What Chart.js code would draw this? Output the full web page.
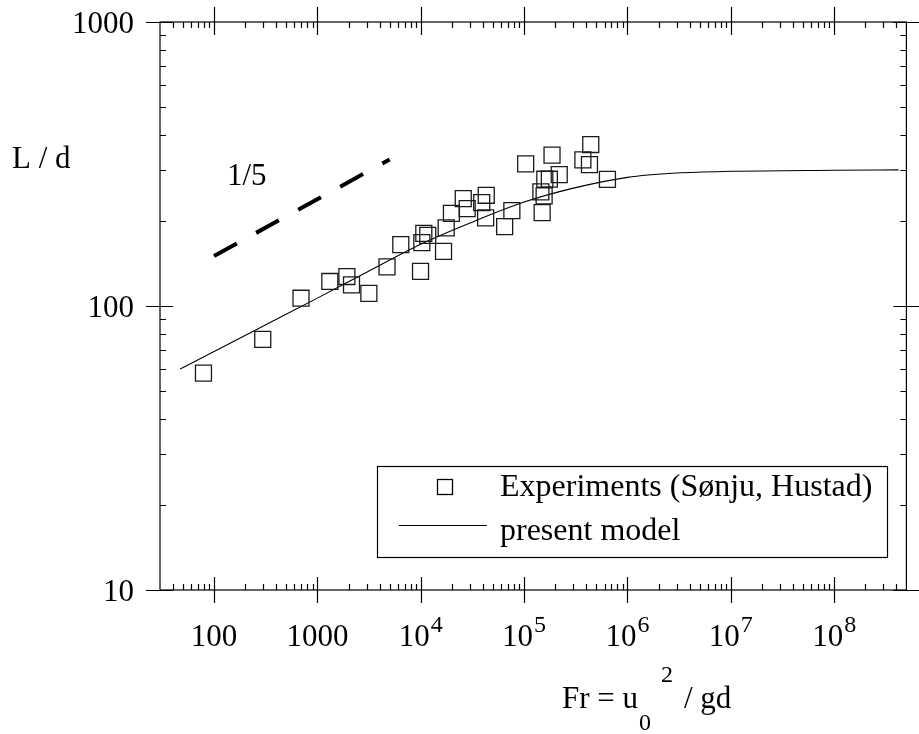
<!DOCTYPE html>
<html><head><meta charset="utf-8">
<script src="https://cdn.jsdelivr.net/npm/chart.js@4.4.0/dist/chart.umd.min.js"></script>
<style>html,body{margin:0;padding:0;background:#fff;}#wrap{width:919px;height:734px;}</style>
</head><body><div id="wrap"><canvas id="c" width="919" height="734"></canvas></div>
<script>
// ---- data ----
const expFr = [79, 296, 694, 1319, 1929, 2138, 3148, 4718, 6412, 9953, 10245, 10706, 11689, 16614, 17631, 19810, 25780, 28140, 38880, 42460, 43020, 64860, 76150, 103600, 145300, 149500, 156200, 158700, 175500, 186300, 218700, 370500, 429000, 441600, 640200];
const expLd = [58, 76.3, 106.5, 122, 127, 118.6, 110.8, 137.3, 164.5, 132.4, 167.2, 180.3, 177.4, 155.8, 188.4, 212, 238.9, 220.3, 231.3, 204.3, 245.4, 190.3, 216.8, 316.6, 252.3, 213.3, 244.2, 279.5, 279.5, 339.6, 290.3, 327, 314.8, 370.3, 279.3];
const modelFr = [47, 100, 300, 1000, 3000, 1e4, 3e4, 1e5, 3e5, 1e6, 3e6, 1e7, 1e8, 4.2e8];
const modelLd = [60, 69.1, 85.0, 106.6, 131.5, 165.0, 196.0, 232.2, 260.0, 283.8, 293.9, 298.0, 300.6, 301.6];
const slopeFr = [100, 5000];
const slopeLd = [150, 328];
const xTickValues = [100, 1000, 1e4, 1e5, 1e6, 1e7, 1e8];
const xTickBase = ['100', '1000', '10', '10', '10', '10', '10'];
const xTickExp = ['', '', '4', '5', '6', '7', '8'];
const yTickValues = [10, 100, 1000];
const yTickLabels = ['10', '100', '1000'];
const seriesNames = ['Experiments (Sønju, Hustad)', 'present model', '1/5'];
const yTitle = 'L / d';

const FONT = '"Liberation Serif", "Times New Roman", serif';
const pts = (xs, ys) => xs.map((v, i) => ({x: v, y: ys[i]}));

const decor = {
  id: 'decor',
  afterDraw(chart) {
    const {ctx, chartArea: a, scales: {x, y}} = chart;
    ctx.save();
    ctx.strokeStyle = '#000';
    ctx.fillStyle = '#000';
    ctx.lineWidth = 1.2;
    ctx.strokeRect(a.left, a.top, a.right - a.left, a.bottom - a.top);
    // x ticks (bottom and top, inward; majors cross)
    ctx.beginPath();
    for (let d = 1; d <= 8; d++) for (let k = 1; k <= 9; k++) {
      const v = k * Math.pow(10, d);
      if (v <= x.min || v >= x.max) continue;
      const px = Math.round(x.getPixelForValue(v)) + 0.5;
      if (k === 1) {
        ctx.moveTo(px, a.bottom + 13); ctx.lineTo(px, a.bottom - 13);
        ctx.moveTo(px, a.top - 15); ctx.lineTo(px, a.top + 13);
      } else {
        ctx.moveTo(px, a.bottom); ctx.lineTo(px, a.bottom - 6);
        ctx.moveTo(px, a.top); ctx.lineTo(px, a.top + 6);
      }
    }
    // y ticks (left and right)
    for (let d = 1; d <= 3; d++) for (let k = 1; k <= 9; k++) {
      const v = k * Math.pow(10, d);
      if (v < y.min || v > y.max) continue;
      const py = Math.round(y.getPixelForValue(v)) + 0.5;
      if (k === 1) {
        ctx.moveTo(a.left - 14, py); ctx.lineTo(a.left + 13, py);
        ctx.moveTo(a.right - 13, py); ctx.lineTo(a.right + 14, py);
      } else {
        ctx.moveTo(a.left, py); ctx.lineTo(a.left + 6, py);
        ctx.moveTo(a.right, py); ctx.lineTo(a.right - 6, py);
      }
    }
    ctx.stroke();

    // y tick labels
    ctx.font = '31px ' + FONT;
    ctx.textAlign = 'right';
    ctx.textBaseline = 'alphabetic';
    yTickValues.forEach((v, i) => {
      ctx.fillText(yTickLabels[i], a.left - 26, y.getPixelForValue(v) + 10.5);
    });

    // x tick labels
    ctx.textAlign = 'left';
    const base = a.bottom + 56;
    xTickValues.forEach((v, i) => {
      ctx.font = '31px ' + FONT;
      const bw = ctx.measureText(xTickBase[i]).width;
      ctx.font = '24px ' + FONT;
      const ew = xTickExp[i] ? ctx.measureText(xTickExp[i]).width + 1 : 0;
      const px = x.getPixelForValue(v);
      const sx = px - (bw + ew) / 2;
      ctx.font = '31px ' + FONT;
      ctx.fillText(xTickBase[i], sx, base);
      if (xTickExp[i]) { ctx.font = '24px ' + FONT; ctx.fillText(xTickExp[i], sx + bw + 1, base - 14); }
    });

    // x axis title: Fr = u0^2 / gd
    ctx.font = '31px ' + FONT;
    const tb = 708;
    ctx.fillText('Fr = u', 562, tb);
    ctx.font = '24px ' + FONT;
    ctx.fillText('0', 639, tb + 22);
    ctx.fillText('2', 661, tb - 26);
    ctx.font = '31px ' + FONT;
    ctx.fillText('/ gd', 684, tb);

    // y title
    ctx.font = '31px ' + FONT;
    ctx.fillText(yTitle, 12, 168);
    // slope label
    ctx.fillText(seriesNames[2], 227, 185);

    // legend
    const L = {l: 377.5, t: 466.5, r: 887.5, b: 557.5};
    ctx.fillStyle = '#fff';
    ctx.fillRect(L.l, L.t, L.r - L.l, L.b - L.t);
    ctx.strokeStyle = '#000';
    ctx.lineWidth = 1.2;
    ctx.strokeRect(L.l, L.t, L.r - L.l, L.b - L.t);
    ctx.fillStyle = '#000';
    const ds = chart.data.datasets;
    ctx.lineWidth = 1.3;
    ctx.strokeRect(437.5, 479.5, 15, 15);
    ctx.lineWidth = 1;
    ctx.beginPath(); ctx.moveTo(399, 525.5); ctx.lineTo(487, 525.5); ctx.stroke();
    ctx.font = '32px ' + FONT;
    ctx.fillText(ds[0].label, 500, 496);
    ctx.fillText(ds[1].label, 500, 540);
    ctx.restore();
  }
};

new Chart(document.getElementById('c'), {
  type: 'scatter',
  data: {
    datasets: [
      {label: seriesNames[0], data: pts(expFr, expLd), showLine: false, pointStyle: 'rect',
       pointRadius: 11.3, pointHoverRadius: 11.3, pointBorderWidth: 1.3, borderColor: '#1a1a1a', backgroundColor: 'rgba(0,0,0,0)'},
      {label: seriesNames[1], data: pts(modelFr, modelLd), showLine: true, pointRadius: 0, borderWidth: 1.1,
       borderColor: '#000', cubicInterpolationMode: 'monotone'},
      {label: seriesNames[2], data: pts(slopeFr, slopeLd), showLine: true, pointRadius: 0, borderWidth: 4,
       borderColor: '#000', borderDash: [26, 22], borderCapStyle: 'butt'}
    ]
  },
  options: {
    responsive: false, animation: false, devicePixelRatio: 1,
    layout: {padding: {top: 22, right: 2, left: 0, bottom: 0}},
    plugins: {legend: {display: false}, tooltip: {enabled: false}},
    scales: {
      x: {type: 'logarithmic', min: 30, max: 5e8,
          ticks: {display: false}, grid: {display: false, drawTicks: false}, border: {display: false},
          afterFit: s => { s.height = 144; }},
      y: {type: 'logarithmic', min: 10, max: 1000,
          ticks: {display: false},
          grid: {display: false, drawTicks: false}, border: {display: false},
          afterFit: s => { s.width = 160; }}
    }
  },
  plugins: [decor]
});
</script></body></html>
